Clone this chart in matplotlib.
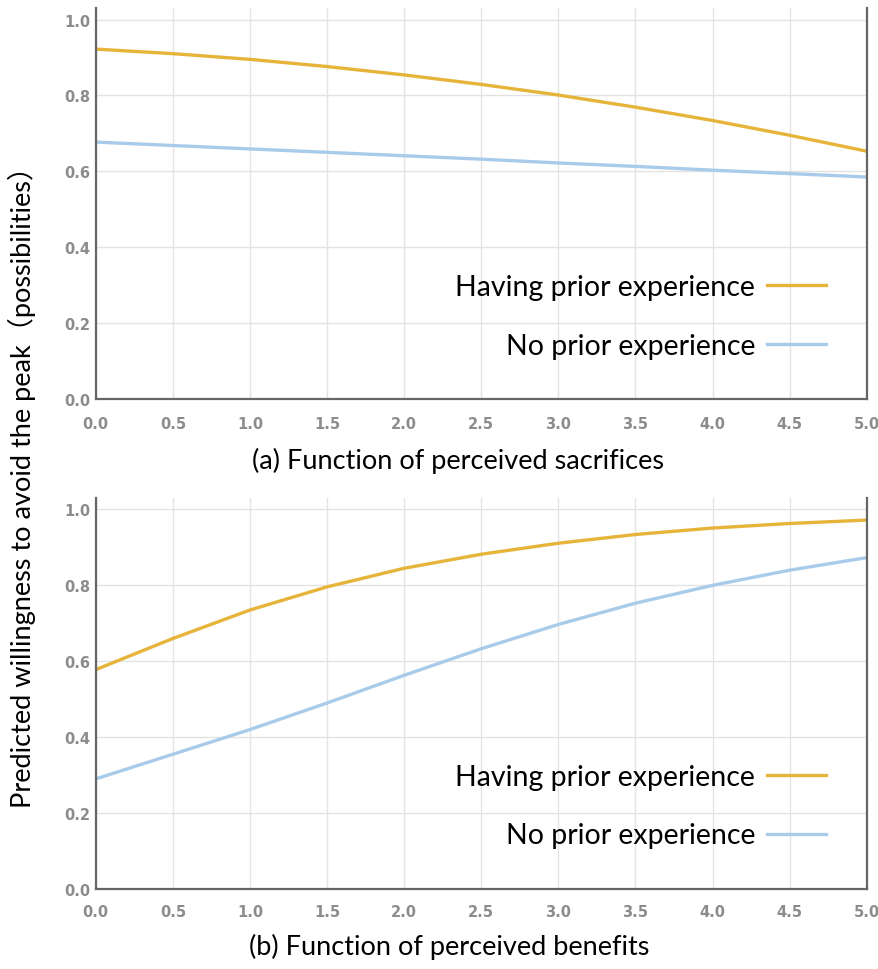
import numpy as np
import matplotlib
matplotlib.use("Agg")
import matplotlib.pyplot as plt

# values
x = [0.0, 0.5, 1.0, 1.5, 2.0, 2.5, 3.0, 3.5, 4.0, 4.5, 5.0]
sacr_prior = [0.922, 0.910, 0.895, 0.876, 0.854, 0.829, 0.801, 0.769, 0.734, 0.695, 0.653]
sacr_none = [0.677, 0.668, 0.659, 0.650, 0.641, 0.632, 0.622, 0.613, 0.603, 0.594, 0.585]
ben_prior = [0.578, 0.660, 0.735, 0.796, 0.845, 0.882, 0.911, 0.934, 0.951, 0.963, 0.972]
ben_none = [0.290, 0.355, 0.420, 0.490, 0.563, 0.633, 0.697, 0.753, 0.800, 0.840, 0.873]
xticks = [0.0, 0.5, 1.0, 1.5, 2.0, 2.5, 3.0, 3.5, 4.0, 4.5, 5.0]
yticks = [0.0, 0.2, 0.4, 0.6, 0.8, 1.0]
labels = ["Having prior experience", "No prior experience"]
captions = ["(a) Function of perceived sacrifices", "(b) Function of perceived benefits"]

c_prior = "#e6b43a"
c_none = "#a9cbea"
fonts = ["Lato", "Noto Sans CJK SC", "DejaVu Sans"]

fig = plt.figure(figsize=(8.79, 9.70), dpi=100)
ax_top = fig.add_axes([0.109, 0.5876, 0.877, 0.403])
ax_bot = fig.add_axes([0.109, 0.0825, 0.877, 0.403])

panels = [
    (ax_top, sacr_prior, sacr_none, captions[0], 0.521, 0.525, 12),
    (ax_bot, ben_prior, ben_none, captions[1], 0.511, 0.024, 11),
]
for ax, yp, yn, cap, cap_x, cap_y, xpad in panels:
    ax.plot(x, yp, color=c_prior, lw=2.4, label=labels[0])
    ax.plot(x, yn, color=c_none, lw=2.4, label=labels[1])
    ax.set_xlim(0, 5)
    ax.set_ylim(0, 1.03)
    ax.set_xticks(xticks)
    ax.set_yticks(yticks)
    ax.set_xticklabels(["%.1f" % v for v in xticks])
    ax.set_yticklabels(["%.1f" % v for v in yticks])
    ax.grid(True, color="#e3e3e3", lw=1)
    ax.set_axisbelow(True)
    ax.tick_params(length=0, labelsize=10.5, labelcolor="#8c8c8c")
    ax.tick_params(axis="x", pad=xpad)
    ax.tick_params(axis="y", pad=4)
    for t in ax.get_xticklabels() + ax.get_yticklabels():
        t.set_fontweight("bold")
    ax.spines["top"].set_visible(False)
    for s in ["left", "bottom", "right"]:
        ax.spines[s].set_color("#666666")
        ax.spines[s].set_linewidth(1.6)
    ax.legend(loc="center right", bbox_to_anchor=(0.981, 0.212), frameon=False,
              markerfirst=False, handlelength=2.1, handletextpad=0.4,
              labelspacing=1.15, prop={"family": fonts, "size": 20.5})
    fig.text(cap_x, cap_y, cap, ha="center", va="center", fontsize=19.5,
             family=fonts)

fig.text(0.025, 0.505, "Predicted willingness to avoid the peak（possibilities）",
         rotation=90, ha="center", va="center", fontsize=19.5, family=fonts)

fig.savefig("out.png", dpi=100)
